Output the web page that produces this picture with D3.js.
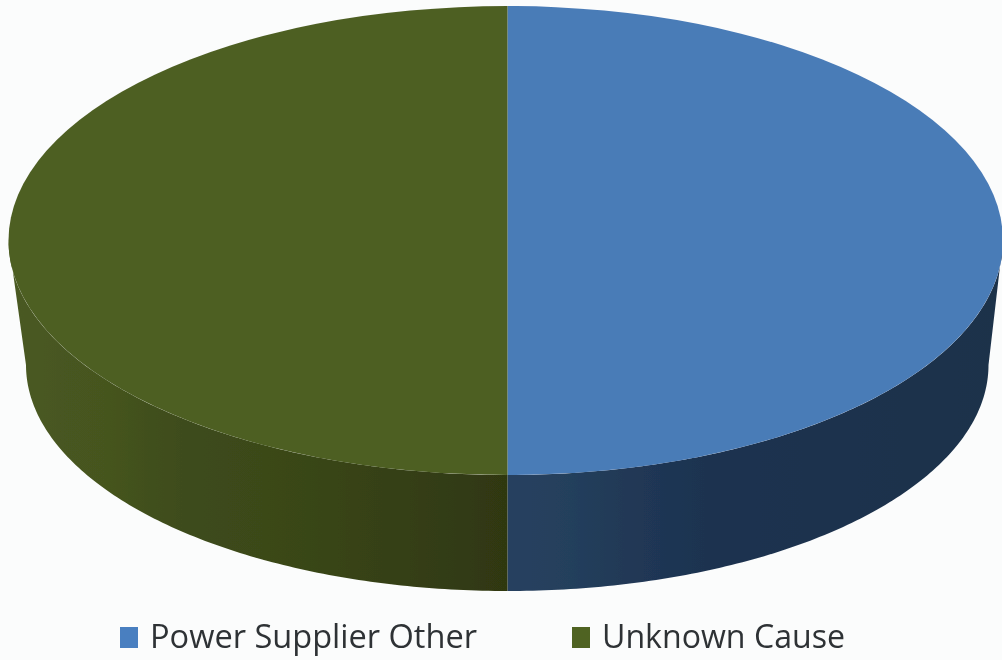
<!DOCTYPE html>
<html>
<head>
<meta charset="utf-8">
<script src="https://cdn.jsdelivr.net/npm/d3@7"></script>
<style>
  html, body { margin: 0; padding: 0; background: #fbfcfc; }
  svg { display: block; }
</style>
</head>
<body>
<div id="chart"></div>
<script>
var categories = ["Power Supplier Other", "Unknown Cause"];
var values = [50, 50];
var topColors = ["#4a7bb7", "#4e5f24"];
var swatchColors = ["#4a7fc0", "#4f6423"];
// shade stops along the side wall, left to right for each slice
var wallStops = [
    [[0, "#28415f"], [0.13, "#243f5c"], [0.27, "#203755"], [0.4, "#1d3350"], [1, "#1d324a"]],
    [[0, "#4a5a21"], [0.2, "#45541f"], [0.35, "#3e4c1b"], [0.6, "#394618"], [0.8, "#353f15"], [1, "#2f3711"]]
];

var width = 1002, height = 660;
var cx = 507.5, cy = 240.5, ry = 234.5;
// the drawing is a little off centre and narrows towards the base
var topRx = [495.5, 499];
var baseRx = [481, 481.5];
var baseCy = 365, baseRy = 226;

var svg = d3.select("#chart").append("svg")
    .attr("width", width)
    .attr("height", height);

var defs = svg.append("defs");

defs.append("filter")
    .attr("id", "soft")
    .attr("filterUnits", "userSpaceOnUse")
    .attr("x", 0).attr("y", 0)
    .attr("width", width).attr("height", height)
    .append("feGaussianBlur")
    .attr("stdDeviation", 0.7);

var chart = svg.append("g").attr("filter", "url(#soft)");

var pie = d3.pie().value(function(d) { return d; }).sort(null);
var slices = pie(values);

slices.forEach(function(s, i) {
    // only the front half of the rim shows; d3 angles start at the top, clockwise
    var a0 = Math.max(s.startAngle, Math.PI / 2);
    var a1 = Math.min(s.endAngle, Math.PI * 1.5);

    var wallArea = d3.area()
        .x0(function(a) { return cx + topRx[i] * Math.sin(a); })
        .y0(function(a) { return cy - ry * Math.cos(a); })
        .x1(function(a) { return cx + baseRx[i] * Math.sin(a); })
        .y1(function(a) { return baseCy - baseRy * Math.cos(a); });

    var x0 = i == 0 ? cx : cx - topRx[i];
    var x1 = i == 0 ? cx + topRx[i] : cx;

    var grad = defs.append("linearGradient")
        .attr("id", "wall" + i)
        .attr("gradientUnits", "userSpaceOnUse")
        .attr("x1", x0).attr("x2", x1)
        .attr("y1", 0).attr("y2", 0);
    wallStops[i].forEach(function(st) {
        grad.append("stop").attr("offset", st[0]).attr("stop-color", st[1]);
    });

    chart.append("path")
        .datum(d3.range(0, 121).map(function(k) { return a0 + (a1 - a0) * k / 120; }))
        .attr("fill", "url(#wall" + i + ")")
        .attr("d", wallArea);
});

chart.selectAll(".top")
    .data(slices)
    .enter()
    .append("path")
    .attr("class", "top")
    .attr("transform", function(d, i) {
        return "translate(" + cx + "," + cy + ") scale(1," + (ry / topRx[i]) + ")";
    })
    .attr("fill", function(d, i) { return topColors[i]; })
    .attr("d", function(d, i) {
        return d3.arc().innerRadius(0).outerRadius(topRx[i])(d);
    });

// legend
var legendX = [120, 572];
var legend = chart.append("g")
    .selectAll("g")
    .data(categories)
    .enter()
    .append("g")
    .attr("transform", function(d, i) { return "translate(" + legendX[i] + ",627)"; });

legend.append("rect")
    .attr("width", 18)
    .attr("height", 21)
    .attr("fill", function(d, i) { return swatchColors[i]; });

legend.append("text")
    .text(function(d) { return d; })
    .attr("x", 30)
    .attr("y", 21)
    .attr("font-family", "'Open Sans', sans-serif")
    .attr("font-size", 32)
    .attr("fill", "#2f3336")
    .attr("textLength", function(d, i) { return i == 0 ? 327 : 243; })
    .attr("lengthAdjust", "spacingAndGlyphs");
</script>
</body>
</html>
